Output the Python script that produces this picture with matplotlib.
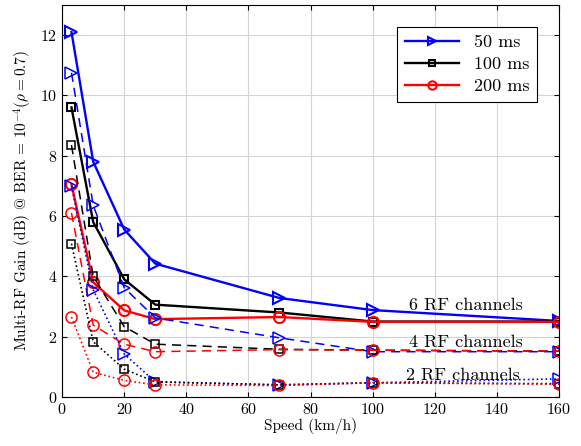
import matplotlib
matplotlib.use('Agg')
import matplotlib.pyplot as plt

plt.rcParams['font.family'] = ['cmr10', 'DejaVu Serif']
plt.rcParams['mathtext.fontset'] = 'cm'
plt.rcParams['axes.formatter.use_mathtext'] = True

speed = [3, 10, 20, 30, 70, 100, 160]

# 6 RF channels (solid)
g6_50 = [12.1, 7.8, 5.55, 4.42, 3.28, 2.88, 2.52]
g6_100 = [9.6, 5.8, 3.9, 3.06, 2.8, 2.5, 2.5]
g6_200 = [7.05, 3.8, 2.87, 2.58, 2.65, 2.49, 2.49]

# 4 RF channels (dashed)
g4_50 = [10.75, 6.35, 3.62, 2.62, 1.96, 1.5, 1.5]
g4_100 = [8.35, 4.0, 2.33, 1.75, 1.58, 1.55, 1.52]
g4_200 = [6.1, 2.38, 1.75, 1.5, 1.57, 1.55, 1.52]

# 2 RF channels (dotted)
g2_50 = [7.0, 3.55, 1.42, 0.5, 0.4, 0.47, 0.6]
g2_100 = [5.08, 1.83, 0.92, 0.5, 0.4, 0.47, 0.44]
g2_200 = [2.65, 0.82, 0.55, 0.4, 0.38, 0.47, 0.42]

labels = ['50 ms', '100 ms', '200 ms']
colors = ['#0000ff', 'black', '#ff0000']
markers = ['>', 's', 'o']
msizes = [8.5, 6, 8]

fig = plt.figure(figsize=(5.81, 4.46), dpi=100)
ax = fig.add_axes([0.107, 0.11, 0.855, 0.879])

groups = [([g6_50, g6_100, g6_200], '-', 1.7),
          ([g4_50, g4_100, g4_200], (0, (6, 4)), 1.1),
          ([g2_50, g2_100, g2_200], ':', 1.2)]

for series, ls, lw in groups:
    for i, vals in enumerate(series):
        ax.plot(speed, vals, linestyle=ls, linewidth=lw, color=colors[i],
                marker=markers[i], markersize=msizes[i], markerfacecolor='none',
                markeredgewidth=1.5 if ls == '-' else 1.1,
                label=labels[i] if ls == '-' else None)

ax.text(130, 3.05, '6 RF channels', ha='center', va='center', fontsize=13)
ax.text(130, 1.8, '4 RF channels', ha='center', va='center', fontsize=13)
ax.text(129, 0.7, '2 RF channels', ha='center', va='center', fontsize=13)

ax.set_xlim(0, 160)
ax.set_ylim(0, 13)
ax.set_xticks(range(0, 161, 20))
ax.set_yticks(range(0, 13, 2))
ax.tick_params(direction='in', top=True, right=True, labelsize=11.5)
ax.grid(True, color='#d4d4d4', linewidth=0.8)
ax.set_axisbelow(True)
ax.set_xlabel('Speed (km/h)', fontsize=11, labelpad=1)
ax.set_ylabel(r'Multi-RF Gain (dB) @ BER = $10^{-4}(\rho = 0.7)$', fontsize=11, labelpad=4)

leg = ax.legend(loc='upper right', fontsize=13, fancybox=False, edgecolor='black',
                framealpha=1, borderaxespad=1.2, handlelength=3.0, markerscale=0.75,
                labelspacing=0.35, borderpad=0.45)
leg.get_frame().set_linewidth(0.8)

fig.savefig('out.png', dpi=100)
